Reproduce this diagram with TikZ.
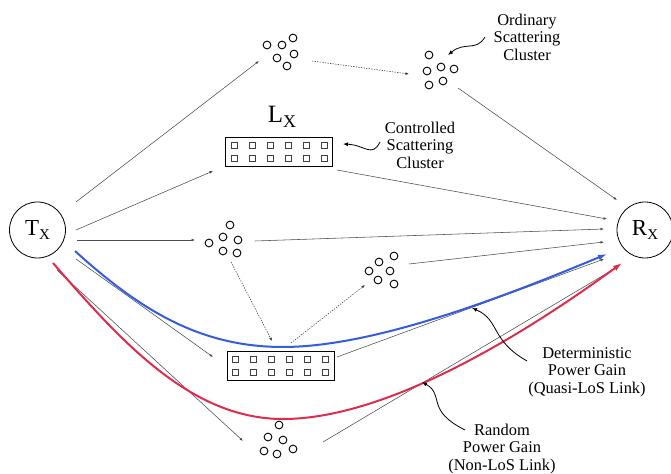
\documentclass[tikz,border=0pt]{standalone}
\usepackage{fontspec}
\setmainfont{Liberation Serif}
\usetikzlibrary{arrows.meta,calc}
\definecolor{beamblue}{RGB}{52,92,222}
\definecolor{beamred}{RGB}{222,44,78}
\begin{document}
\begin{tikzpicture}[x=1bp,y=-1bp,
  lbl/.style={font=\fontsize{16.5}{17.5}\selectfont, align=center, inner sep=0pt},
  conn/.style={black!70, line width=0.55bp, -{Latex[length=3.5bp,width=2.6bp]}},
  dotconn/.style={conn, black!80, dash pattern=on 1.3bp off 1.3bp},
  dev/.style={circle, draw, line width=0.8bp, minimum size=56bp, inner sep=0pt,
    font=\fontsize{23}{24}\selectfont},
  surf/.style={draw, line width=0.8bp, fill=white, minimum width=107bp, minimum height=29bp, inner sep=0pt},
  scat/.style={line width=0.9bp},
  sq/.style={draw=black!75, line width=1bp},
  wave/.style={black, line width=0.8bp, -{Latex[length=5bp,width=4bp]}},
  beam/.style={line width=2bp, -{Latex[length=9bp,width=6bp]}},
  cl/.style={inner sep=0pt, minimum size=30bp}
]
\useasboundingbox (0,0) rectangle (671,474);

% transmitter and receiver
\node[dev] (tx) at (37.5,230) {T\raisebox{-0.45ex}{\fontsize{15}{15}\selectfont X}};
\node[dev] (rx) at (645,230) {R\raisebox{-0.45ex}{\fontsize{15}{15}\selectfont X}};

% controlled scattering clusters (surfaces)
\node[surf] (la) at (279,152) {};
\node[surf] (lb) at (280.5,365.5) {};
\foreach \s in {la,lb}{
  \foreach \dx in {-45,-27,-9,9,27,45}{
    \foreach \dy in {-6.5,6.5}{
      \draw[sq] ($(\s)+(\dx-3,\dy-3)$) rectangle ++(6,6);
    }
  }
}
\node[font=\fontsize{25}{26}\selectfont, inner sep=0pt] (lalabel) at (282,117)
  {L\raisebox{-0.45ex}{\fontsize{18}{18}\selectfont X}};

% ordinary scattering clusters
\node[cl] (ca) at (281,52) {};
\foreach \p in {(267,45),(282,45),(293,38),(294,54),(277,58),(287,66)}
  \draw[scat] \p circle (3.9bp);
\node[cl] (cb) at (440,70) {};
\foreach \p in {(429,55),(441,67),(427,71),(454,69),(429,85),(443,81)}
  \draw[scat] \p circle (3.9bp);
\node[cl] (cm) at (225,240) {};
\foreach \p in {(209,243),(223,237),(230,225),(238,240),(223,251),(237,253)}
  \draw[scat] \p circle (3.9bp);
\node[cl] (cr) at (382,270) {};
\foreach \p in {(369,271),(379,262),(394,256),(390,271),(378,280),(394,284)}
  \draw[scat] \p circle (3.9bp);
\node[cl] (cbot) at (279,440) {};
\foreach \p in {(279,425),(268,437),(283,440),(264,451),(277,454),(293,449)}
  \draw[scat] \p circle (3.9bp);

% connector end points
\coordinate (t1) at (76,202);
\coordinate (t2) at (76,230);
\coordinate (t3) at (77,240);
\coordinate (t4) at (75,251);
\coordinate (t5) at (76,259);
\coordinate (t6) at (53,263);
\coordinate (t7) at (57,270);
\coordinate (r1) at (617,200);
\coordinate (r2) at (607,219);
\coordinate (r3) at (604,229);
\coordinate (r4) at (604,242);
\coordinate (r5) at (607,254);
\coordinate (r6) at (604,259);
\coordinate (r7) at (622,263);
\coordinate (r8) at (619,266);
\coordinate (caI) at (259,61);
\coordinate (caO) at (312,61);
\coordinate (cbI) at (409,74);
\coordinate (cbO) at (458,88);
\coordinate (laI) at (213,171);
\coordinate (laO) at (337,170);
\coordinate (cmI) at (195,240);
\coordinate (cmO) at (255,241);
\coordinate (cmD) at (231,262);
\coordinate (crI) at (365,285);
\coordinate (crO) at (409,264);
\coordinate (lbT) at (272,341);
\coordinate (lbT2) at (291,343);
\coordinate (lbI) at (213,357);
\coordinate (lbO) at (337,357);
\coordinate (cbotI) at (243,441);
\coordinate (cbotO) at (323,442);

% connectors
\draw[conn] (t1) -- (caI);
\draw[dotconn] (caO) -- (cbI);
\draw[conn] (cbO) -- (r1);
\draw[conn] (t2) -- (laI);
\draw[conn] (laO) -- (r2);
\draw[conn] (t3) -- (cmI);
\draw[conn] (cmO) -- (r3);
\draw[conn] (crO) -- (r4);
\draw[dotconn] (cmD) -- (lbT);
\draw[dotconn] (lbT2) -- (crI);
\draw[conn] (t5) -- (lbI);
\draw[conn] (lbO) -- (r6);
\draw[conn] (t7) -- (cbotI);
\draw[conn] (cbotO) -- (r8);

% power gain beams
\draw[beam, beamblue] (t4) .. controls (140,310) and (200,347) .. (283,347)
  .. controls (380,347) and (520,290) .. (r5);
\draw[beam, beamred] (t6) .. controls (120,340) and (190,419) .. (283,419)
  .. controls (390,419) and (530,330) .. (r7);

% labels
\node[lbl] (ordlbl) at (527,37) {Ordinary\\Scattering\\Cluster};
\node[lbl] (ctllbl) at (420,145) {Controlled\\Scattering\\Cluster};
\node[lbl] (detlbl) at (587,372) {Deterministic\\Power Gain\\(Quasi-LoS Link)};
\node[lbl] (rndlbl) at (502,449) {Random\\Power Gain\\(Non-LoS Link)};

\coordinate (w1s) at (485,37);
\coordinate (w1e) at (448,55);
\coordinate (w2s) at (380,142);
\coordinate (w2e) at (343,144);
\coordinate (w3s) at (527,361);
\coordinate (w3e) at (472,308);
\coordinate (w4s) at (465,430);
\coordinate (w4e) at (422,382);
\draw[wave] (w1s) .. controls (476,52) and (465,41) .. (w1e);
\draw[wave] (w2s) .. controls (372,158) and (365,145) .. (w2e);
\draw[wave] (w3s) .. controls (490,340) and (500,320) .. (w3e);
\draw[wave] (w4s) .. controls (425,410) and (445,395) .. (w4e);
\end{tikzpicture}
\end{document}
